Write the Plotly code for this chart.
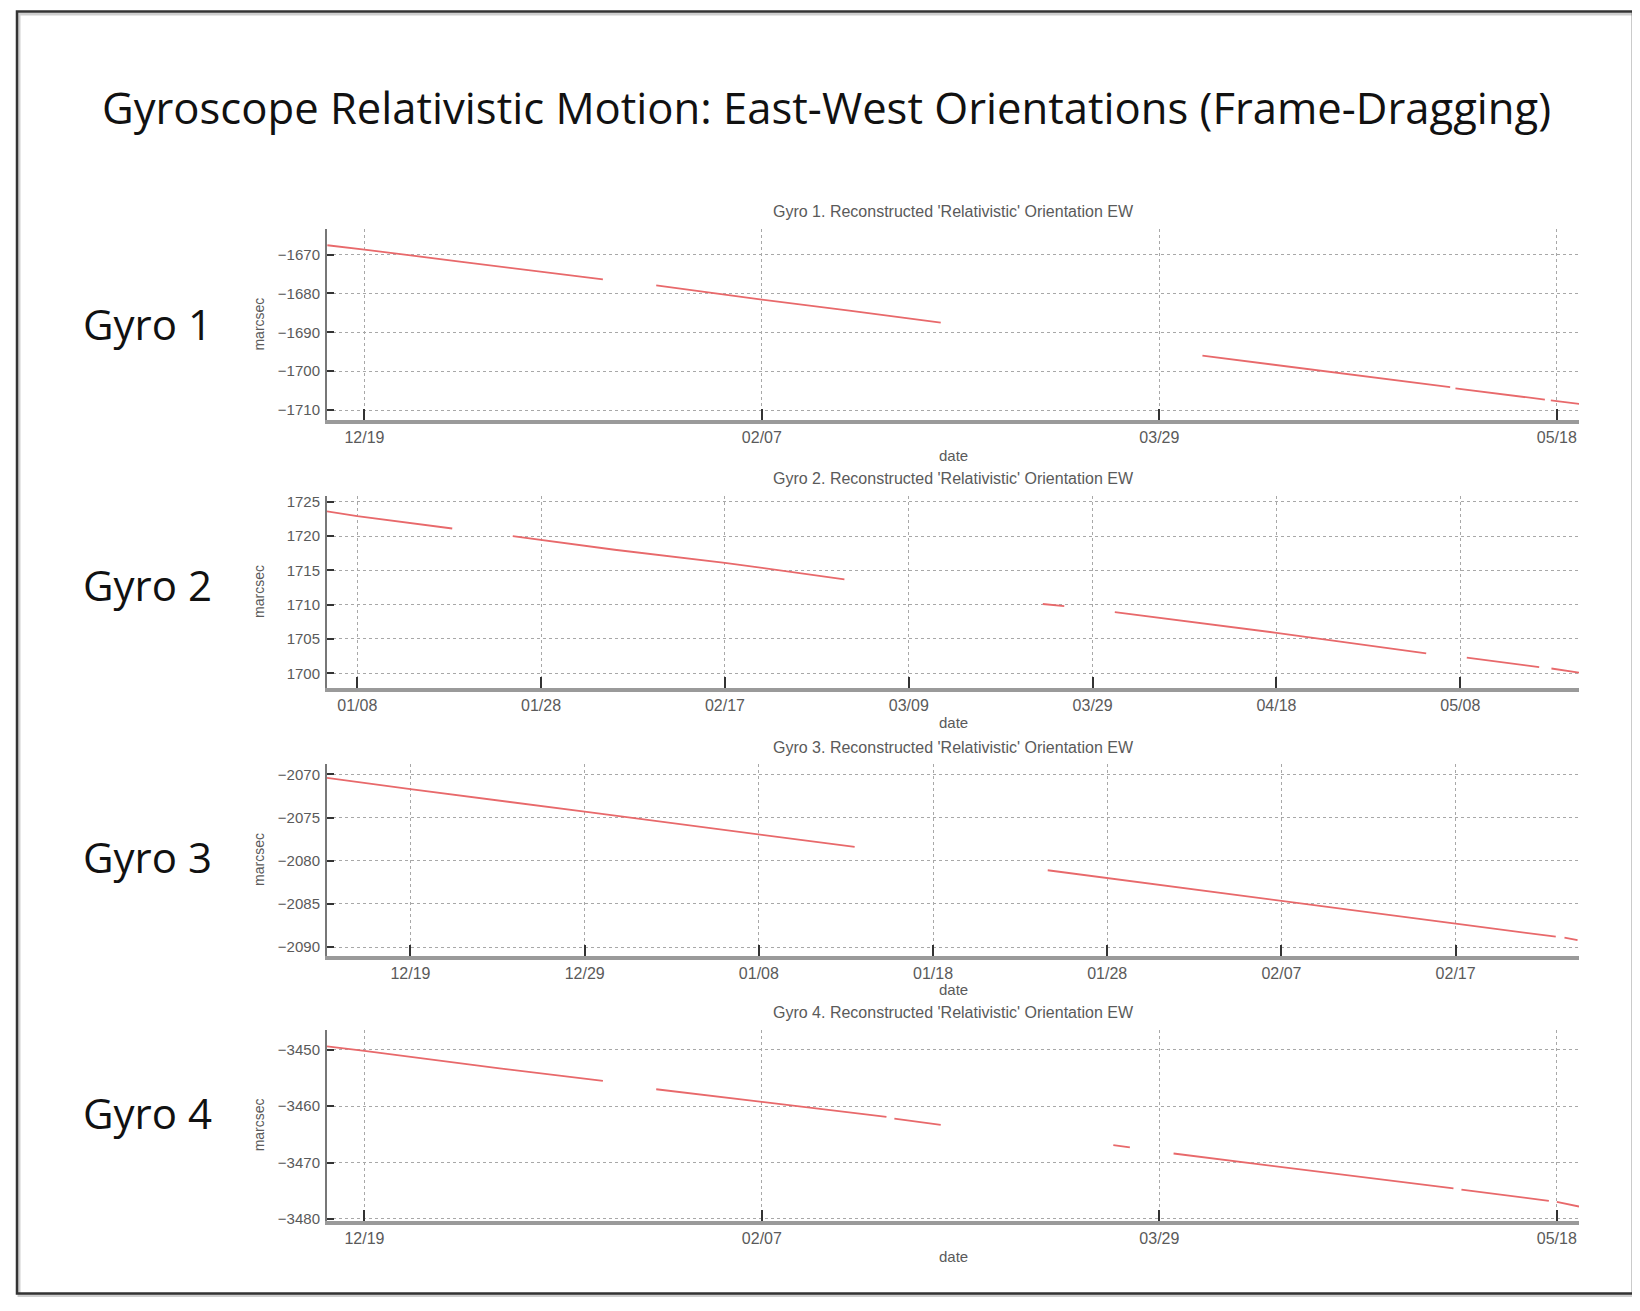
import plotly.graph_objects as go

# page body has an 8px margin, so the figure is 16px smaller than the window
OFF = 8
W, H = 1640 - 2 * OFF, 1311 - 2 * OFF

# ---------------- data ----------------
g1_dates = ["2004-12-14 08:00", "2004-12-19", "2004-12-31", "2005-01-10", "2005-01-18",
            None,
            "2005-01-24 17:00", "2005-02-07", "2005-02-18", "2005-03-01 12:00",
            None,
            "2005-04-03 10:00", "2005-04-20", "2005-05-04 14:00",
            None,
            "2005-05-05 06:00", "2005-05-16 12:00",
            None,
            "2005-05-17 06:00", "2005-05-20 20:00"]
g1_vals = [-1667.6, -1668.7, -1671.8, -1674.3, -1676.4,
           None,
           -1677.9, -1681.6, -1684.4, -1687.5,
           None,
           -1696.0, -1700.3, -1704.1,
           None,
           -1704.4, -1707.3,
           None,
           -1707.5, -1708.4]

g2_dates = ["2005-01-04 17:00", "2005-01-08", "2005-01-18 08:00",
            None,
            "2005-01-24 22:00", "2005-02-05", "2005-02-17", "2005-03-02",
            None,
            "2005-03-23 14:00", "2005-03-25 22:00",
            None,
            "2005-03-31 10:00", "2005-04-18", "2005-05-04 07:00",
            None,
            "2005-05-08 17:00", "2005-05-16 14:00",
            None,
            "2005-05-17 22:00", "2005-05-20 22:00"]
g2_vals = [1723.6, 1722.9, 1721.1,
           None,
           1720.0, 1718.0, 1716.1, 1713.7,
           None,
           1710.1, 1709.8,
           None,
           1708.9, 1705.9, 1702.9,
           None,
           1702.3, 1700.9,
           None,
           1700.7, 1700.1]

g3_dates = ["2004-12-14 05:00", "2004-12-19", "2004-12-29", "2005-01-08", "2005-01-13 12:00",
            None,
            "2005-01-24 14:00", "2005-02-07", "2005-02-17", "2005-02-22 18:00",
            None,
            "2005-02-23 06:00", "2005-02-24"]
g3_vals = [-2070.4, -2071.7, -2074.3, -2076.9, -2078.4,
           None,
           -2081.1, -2084.7, -2087.3, -2088.8,
           None,
           -2088.9, -2089.2]

g4_dates = ["2004-12-14 07:00", "2004-12-19", "2005-01-05", "2005-01-18",
            None,
            "2005-01-24 17:00", "2005-02-07", "2005-02-22 16:00",
            None,
            "2005-02-23 16:00", "2005-03-01 12:00",
            None,
            "2005-03-23 05:00", "2005-03-25 07:00",
            None,
            "2005-03-30 19:00", "2005-04-20", "2005-05-05",
            None,
            "2005-05-06", "2005-05-17",
            None,
            "2005-05-18", "2005-05-20 19:00"]
g4_vals = [-3449.4, -3450.2, -3453.3, -3455.5,
           None,
           -3457.0, -3459.3, -3461.9,
           None,
           -3462.2, -3463.3,
           None,
           -3466.9, -3467.3,
           None,
           -3468.4, -3471.9, -3474.6,
           None,
           -3474.8, -3476.8,
           None,
           -3477.0, -3477.8]

panel_titles = ["Gyro 1. Reconstructed 'Relativistic' Orientation EW",
                "Gyro 2. Reconstructed 'Relativistic' Orientation EW",
                "Gyro 3. Reconstructed 'Relativistic' Orientation EW",
                "Gyro 4. Reconstructed 'Relativistic' Orientation EW"]
gyro_labels = ["Gyro 1", "Gyro 2", "Gyro 3", "Gyro 4"]

x_ticks = [["2004-12-19", "2005-02-07", "2005-03-29", "2005-05-18"],
           ["2005-01-08", "2005-01-28", "2005-02-17", "2005-03-09",
            "2005-03-29", "2005-04-18", "2005-05-08"],
           ["2004-12-19", "2004-12-29", "2005-01-08", "2005-01-18",
            "2005-01-28", "2005-02-07", "2005-02-17"],
           ["2004-12-19", "2005-02-07", "2005-03-29", "2005-05-18"]]
x_ranges = [["2004-12-14 07:00", "2005-05-20 19:00"],
            ["2005-01-04 17:00", "2005-05-20 22:00"],
            ["2004-12-14 05:00", "2005-02-24 02:00"],
            ["2004-12-14 07:00", "2005-05-20 19:00"]]
y_ticks = [[-1710, -1700, -1690, -1680, -1670],
           [1700, 1705, 1710, 1715, 1720, 1725],
           [-2090, -2085, -2080, -2075, -2070],
           [-3480, -3470, -3460, -3450]]
y_ranges = [[-1712.5, -1663.5],
            [1697.9, 1725.8],
            [-2091.0, -2068.8],
            [-3480.3, -3446.5]]

series = [(g1_dates, g1_vals), (g2_dates, g2_vals), (g3_dates, g3_vals), (g4_dates, g4_vals)]

# ---------------- layout geometry (window pixels) ----------------
plot_left, plot_right = 327, 1579
panel_px = [(228, 420), (497, 690), (767, 960), (1035, 1227)]
title_y = [210, 479, 750, 1017]
date_y = [456, 725, 994, 1263]
gyro_y = [323, 586, 860, 1118]


def px(x):
    return (x - OFF) / W


def py(y):
    return 1 - (y - OFF) / H


LINE_COLOR = "#e8696b"
SMALL_FONT = "Liberation Sans, Arial"
fig = go.Figure()
annotations = []
layout_axes = {}

for i, (xs, ys) in enumerate(series):
    n = i + 1
    xa = "x" if n == 1 else f"x{n}"
    ya = "y" if n == 1 else f"y{n}"
    fig.add_trace(go.Scatter(x=xs, y=ys, mode="lines", connectgaps=False,
                             line=dict(color=LINE_COLOR, width=1.8),
                             xaxis=xa, yaxis=ya, showlegend=False))
    top, bot = panel_px[i]
    common = dict(showgrid=True, gridcolor="#a8a8a8", griddash="dot", gridwidth=1,
                  showline=True, ticks="inside", tickcolor="#333", tickwidth=2,
                  zeroline=False, fixedrange=True)
    layout_axes[("xaxis" if n == 1 else f"xaxis{n}")] = dict(
        common, domain=[px(plot_left), px(plot_right)], anchor=ya, type="date",
        range=x_ranges[i], tickvals=x_ticks[i], tickformat="%m/%d", ticklen=11,
        linecolor="#9a9a9a", linewidth=3.5, ticklabelstandoff=0,
        tickfont=dict(family=SMALL_FONT, size=16, color="#5a5a5a"))
    layout_axes[("yaxis" if n == 1 else f"yaxis{n}")] = dict(
        common, domain=[py(bot), py(top)], anchor=xa, range=y_ranges[i],
        tickvals=y_ticks[i], ticklen=7, linecolor="#777", linewidth=2,
        ticklabelstandoff=2,
        tickfont=dict(family=SMALL_FONT, size=15, color="#5a5a5a"))

    annotations.append(dict(text=panel_titles[i], x=px((plot_left + plot_right) / 2),
                            y=py(title_y[i]), xref="paper", yref="paper",
                            xanchor="center", yanchor="middle", showarrow=False,
                            font=dict(family=SMALL_FONT, size=16, color="#5a5a5a")))
    annotations.append(dict(text="date", x=px((plot_left + plot_right) / 2),
                            y=py(date_y[i]), xref="paper", yref="paper",
                            xanchor="center", yanchor="middle", showarrow=False,
                            font=dict(family=SMALL_FONT, size=15, color="#5a5a5a")))
    annotations.append(dict(text="marcsec", x=px(259), y=py((top + bot) / 2),
                            xref="paper", yref="paper", textangle=-90,
                            xanchor="center", yanchor="middle", showarrow=False,
                            font=dict(family=SMALL_FONT, size=14, color="#5a5a5a")))
    annotations.append(dict(text=gyro_labels[i], x=px(147), y=py(gyro_y[i]),
                            xref="paper", yref="paper", xanchor="center", yanchor="middle",
                            showarrow=False,
                            font=dict(family="Open Sans", size=42, color="#111")))

annotations.append(dict(text="Gyroscope Relativistic Motion: East-West Orientations (Frame-Dragging)",
                        x=px(826), y=py(105), xref="paper", yref="paper",
                        xanchor="center", yanchor="middle", showarrow=False,
                        font=dict(family="Open Sans", size=43.6, color="#111")))

shapes = [
    # soft shadow
    dict(type="rect", xref="paper", yref="paper", x0=px(19), x1=px(1636), y0=py(1302.5), y1=py(11),
         line=dict(color="#cfcfcf", width=3), layer="below"),
    # frame
    dict(type="rect", xref="paper", yref="paper", x0=px(17), x1=px(1633), y0=py(1300.5), y1=py(8.5),
         line=dict(color="#333", width=2.5), layer="above"),
]

fig.update_layout(width=W, height=H, margin=dict(l=0, r=0, t=0, b=0),
                  paper_bgcolor="white", plot_bgcolor="white",
                  annotations=annotations, shapes=shapes, **layout_axes)

fig.write_html("out.html")
